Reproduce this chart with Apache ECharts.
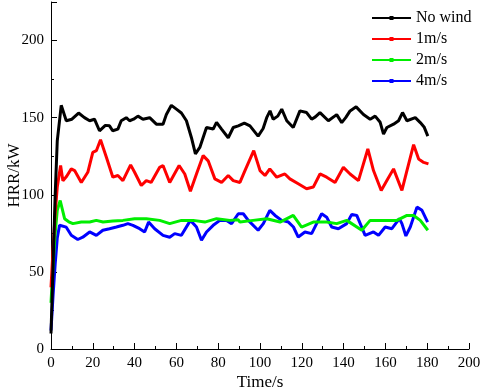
<!DOCTYPE html>
<html>
<head>
<meta charset="utf-8">
<script src="https://cdn.jsdelivr.net/npm/echarts@6/dist/echarts.min.js"></script>
<style>
  html, body { margin: 0; padding: 0; background: #fff; }
  #chart { width: 480px; height: 391px; }
</style>
</head>
<body>
<div id="chart"></div>
<script>
var seriesNames = ["No wind", "1m/s", "2m/s", "4m/s"];
var seriesColors = ["#000000", "#ff0000", "#00ee00", "#0000ff"];

// time (s) / HRR (kW)
var noWindT = [0, 1, 2, 3, 4.9, 7.3, 10, 13.2, 16, 18.5, 20.8, 23.2, 26, 28, 29.5, 32, 33.6, 36, 37.6, 39.5, 41.6, 44, 47.2, 50.4, 53.6, 55.2, 57.6, 60, 62.4, 64.8, 67.2, 69.1, 71.2, 74.4, 77.6, 79.2, 81.6, 84.8, 87.2, 89.6, 92.5, 95.2, 99.1, 101.5, 103.2, 104.8, 106.3, 108.5, 110.4, 112.8, 115.9, 119.1, 122.3, 124.7, 126.5, 128.7, 132.7, 136.7, 139.1, 141, 143.1, 146, 149.5, 152.7, 155.1, 157.5, 159.1, 160.7, 163.9, 166.3, 168.2, 170.3, 174.3, 176.7, 178.5, 180.3];
var noWindV = [10, 55, 100, 135, 158, 148, 149, 153, 150, 148, 149, 141.5, 145, 144.7, 141.5, 142.6, 148, 150, 148, 149, 151, 149, 150, 145.8, 145.8, 152, 158, 155.5, 153, 148, 137, 126.5, 130.7, 143.6, 142.6, 147, 142.6, 137, 143.6, 144.7, 146.5, 144.7, 138, 143, 150, 154.4, 149, 151, 155.5, 148, 143.6, 154.4, 153.3, 149, 150.5, 153.3, 148, 152, 146.8, 150, 154.4, 157, 152, 149, 151, 147, 139.3, 143.6, 145.8, 148, 153.3, 148, 150, 146.8, 144, 138];

var wind1T = [0, 1, 2, 3, 4.6, 5.7, 7.5, 9.7, 11.3, 14.5, 17.6, 20, 21.7, 23.7, 26.5, 29.6, 32, 34.4, 38.1, 40, 43.2, 45.6, 47.9, 52, 53.6, 56.8, 61.3, 64, 66.7, 69.6, 72.8, 75.2, 78.4, 81.6, 84.8, 87.2, 90.4, 92.8, 97, 100, 102.4, 104.7, 108, 111.9, 114.3, 118.3, 122.3, 125.5, 128.7, 131.9, 135.9, 139.9, 143.1, 147.1, 151.6, 154.3, 158, 160.7, 163.9, 167.9, 170.3, 173.5, 175.9, 178.3, 180.6];
var wind1V = [40, 65, 88, 105, 119, 109, 112, 116.8, 115.7, 108, 114.6, 127.5, 128.6, 135.7, 124.3, 111.4, 112.5, 109.2, 119.4, 114.6, 106, 109.2, 108, 117.8, 119, 108, 119, 113.5, 102.3, 113.5, 125.4, 122, 110.3, 108, 112.5, 109.2, 108, 115.7, 128.6, 115.7, 112.5, 116.8, 111.4, 113.5, 110.3, 107.1, 103.9, 105, 113.5, 111.4, 108, 117.8, 113.5, 109.2, 129.7, 115.7, 102.8, 109.2, 116.8, 102.8, 115.7, 132.5, 123.2, 121, 120];

var wind2T = [0, 1, 2, 3, 4.4, 6.5, 8.5, 10.5, 14.5, 18.5, 21.7, 24.9, 29.6, 34.4, 40, 45.6, 52, 56.8, 62.4, 68, 73.6, 79.2, 85.6, 89.6, 90.4, 96.7, 103.2, 109.6, 115.9, 119.9, 125.5, 131.9, 136.7, 141.5, 148.7, 152.7, 159.1, 165.5, 170.3, 173.5, 176.7, 180.3];
var wind2V = [30, 55, 75, 90, 96.3, 84.5, 82.5, 81.3, 82.3, 82.3, 83.4, 82.3, 83, 83.4, 84.5, 84.5, 83.4, 81.3, 83.4, 83.4, 82.3, 84.5, 83.4, 83.8, 82.3, 83.4, 84.5, 82.3, 86.6, 79.1, 82.3, 82.3, 81.3, 83.4, 77, 83.4, 83.4, 83.4, 86.6, 86.6, 83.4, 77];

var wind4T = [0, 1, 2, 3, 4.1, 7.3, 9.7, 12.8, 15.2, 18.5, 21.7, 24.8, 28, 31.3, 34.4, 36.8, 39.2, 42.4, 44.8, 46.7, 49.6, 53.6, 56.8, 59.2, 62.4, 66.7, 69.6, 72, 74.4, 77.6, 80.8, 84, 86.4, 89.6, 92, 94.4, 99.1, 101.6, 104.7, 107.2, 110.4, 113.6, 116, 118.3, 121.5, 124.7, 127.1, 129.5, 131.9, 134.3, 137.5, 141.5, 143.9, 146.3, 150.3, 154.3, 156.7, 159.9, 163.1, 166.7, 167.9, 169.8, 171.9, 175.1, 177.5, 180.2];
var wind4V = [12, 35, 55, 72, 80.2, 79, 73.7, 71, 72.5, 75.9, 73.7, 77, 78, 79.1, 80.2, 81.3, 80.2, 78, 75.9, 82.3, 78, 73.7, 72.5, 74.8, 73.7, 83.4, 79.1, 70.5, 75.9, 80.2, 83.4, 83.4, 81.3, 87.7, 87.7, 83.4, 77, 81.3, 89.9, 86.6, 83.4, 82.3, 79.1, 72.6, 75.9, 74.8, 81.3, 87.7, 85.5, 79.1, 78, 81.3, 87.3, 86.6, 73.7, 75.9, 73.7, 79.1, 78, 84.5, 81.3, 73.3, 79.1, 92, 89.9, 82.3];

var xTicks = [0, 20, 40, 60, 80, 100, 120, 140, 160, 180, 200];
var yTicks = [0, 50, 100, 150, 200];

function pairs(t, v) {
  return t.map(function (x, i) { return [x, v[i]]; });
}
var allT = [noWindT, wind1T, wind2T, wind4T];
var allV = [noWindV, wind1V, wind2V, wind4V];

var font = "Liberation Serif";
var myChart = echarts.init(document.getElementById("chart"));
var option = {
  backgroundColor: "#ffffff",
  animation: false,
  textStyle: {fontFamily: font},
  grid: {left: 51, right: 11, top: 2, bottom: 42, containLabel: false, outerBoundsMode: "none"},
  legend: {
    orient: "vertical",
    left: 366,
    top: 5,
    itemWidth: 39,
    itemHeight: 5,
    itemGap: 5,
    textStyle: {fontFamily: font, fontSize: 16, color: "#000"},
    data: seriesNames
  },
  xAxis: {
    type: "value",
    min: xTicks[0],
    max: xTicks[xTicks.length - 1],
    interval: 20,
    name: "Time/s",
    nameLocation: "middle",
    nameGap: 25,
    nameMoveOverlap: false,
    nameTextStyle: {fontFamily: font, fontSize: 17, color: "#000"},
    axisLine: {lineStyle: {color: "#000", width: 1}},
    axisTick: {inside: true, length: 6, lineStyle: {color: "#000"}},
    minorTick: {show: true, splitNumber: 2, length: 3, lineStyle: {color: "#000"}},
    axisLabel: {fontFamily: font, fontSize: 15, color: "#000", margin: 7},
    splitLine: {show: false}
  },
  yAxis: {
    type: "value",
    min: yTicks[0],
    max: 225,
    interval: 50,
    name: "HRR/kW",
    nameLocation: "middle",
    nameGap: 28,
    nameMoveOverlap: false,
    nameTextStyle: {fontFamily: font, fontSize: 17, color: "#000"},
    axisLine: {show: true, lineStyle: {color: "#000", width: 1}},
    axisTick: {show: true, inside: true, length: 6, lineStyle: {color: "#000"}},
    minorTick: {show: true, splitNumber: 2, length: 3, lineStyle: {color: "#000"}},
    axisLabel: {
      fontFamily: font, fontSize: 15, color: "#000", margin: 7,
      formatter: function (v) { return yTicks.indexOf(v) >= 0 ? String(v) : ""; }
    },
    splitLine: {show: false}
  },
  series: seriesNames.map(function (name, i) {
    return {
      name: name,
      type: "line",
      data: pairs(allT[i], allV[i]),
      symbol: "rect",
      symbolSize: 3,
      showSymbol: false,
      color: seriesColors[i],
      lineStyle: {width: 3, color: seriesColors[i]},
      z: 10 - i
    };
  })
};
myChart.setOption(option);
</script>
</body>
</html>
